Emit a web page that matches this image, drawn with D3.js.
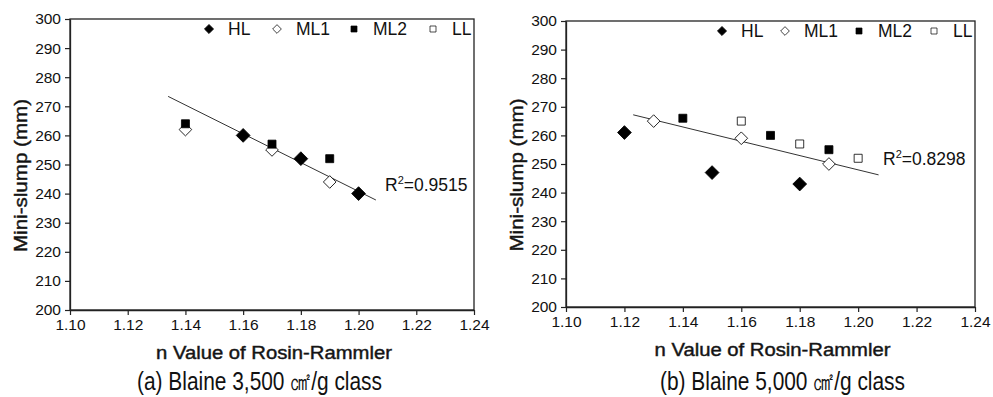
<!DOCTYPE html>
<html>
<head>
<meta charset="utf-8">
<script src="https://cdn.jsdelivr.net/npm/d3@7"></script>
<style>
  body { margin: 0; background: #fff; }
  svg text { font-family: "Liberation Sans", Arial, sans-serif; fill: #111; }
</style>
</head>
<body>
<svg id="chart" width="993" height="397"></svg>
<script>
// data
const xTicks = [1.10, 1.12, 1.14, 1.16, 1.18, 1.20, 1.22, 1.24]
const yTicks = [200, 210, 220, 230, 240, 250, 260, 270, 280, 290, 300]
const seriesNames = ["HL", "ML1", "ML2", "LL"]

// (a) Blaine 3,500
const a_HL = [[1.16, 260], [1.18, 252], [1.20, 240]]
const a_ML1 = [[1.14, 262], [1.17, 255], [1.19, 244]]
const a_ML2 = [[1.14, 264], [1.17, 257], [1.19, 252]]
const a_LL = []
const a_fit = [[1.134, 273.4], [1.206, 237.8]]

// (b) Blaine 5,000
const b_HL = [[1.12, 261], [1.15, 247], [1.18, 243]]
const b_ML1 = [[1.13, 265], [1.16, 259], [1.19, 250]]
const b_ML2 = [[1.14, 266], [1.17, 260], [1.19, 255]]
const b_LL = [[1.16, 265], [1.18, 257], [1.20, 252]]
const b_fit = [[1.123, 267.2], [1.207, 246.2]]

const svg = d3.select("#chart")

// marker shapes (diamonds are squares turned 45 degrees)
const symbols = {
    HL: { size: 95, rot: 45, fill: "#000" },
    ML1: { size: 80, rot: 45, fill: "#fff" },
    ML2: { size: 64, rot: 0, fill: "#000" },
    LL: { size: 64, rot: 0, fill: "#fff" }
}
const legendSymbols = {
    HL: { size: 42, rot: 45, fill: "#000" },
    ML1: { size: 38, rot: 45, fill: "#fff" },
    ML2: { size: 36, rot: 0, fill: "#000" },
    LL: { size: 36, rot: 0, fill: "#fff" }
}

const drawPanel = (p) => {
    const x = d3.scaleLinear().domain([1.10, 1.24]).range([p.left, p.right])
    const y = d3.scaleLinear().domain([200, 300]).range([p.bottom, p.top])
    const g = svg.append("g")

    // frame
    g.append("rect")
        .attr("x", p.left).attr("y", p.top)
        .attr("width", p.right - p.left).attr("height", p.bottom - p.top)
        .attr("fill", "none").attr("stroke", "#222").attr("stroke-width", 1.3)

    const xAxis = g.append("g")
        .attr("transform", "translate(0," + p.bottom + ")")
        .call(d3.axisBottom(x).tickValues(xTicks).tickFormat(d3.format(".2f")).tickSize(5).tickSizeOuter(0))
    const yAxis = g.append("g")
        .attr("transform", "translate(" + p.left + ",0)")
        .call(d3.axisLeft(y).tickValues(yTicks).tickSize(5).tickSizeOuter(0))
    ;[xAxis, yAxis].forEach((ax) => {
        ax.select(".domain").attr("stroke", "#222").attr("stroke-width", 1.3)
        ax.selectAll(".tick line").attr("stroke", "#222").attr("stroke-width", 1.2)
        ax.selectAll(".tick text").attr("font-size", 15.5).attr("fill", "#222")
            .attr("font-family", "Liberation Sans, Arial, sans-serif")
    })
    xAxis.selectAll(".tick text").attr("dy", "0.8em")
    yAxis.selectAll(".tick text").attr("dx", "-1")

    // regression line
    g.append("path")
        .datum(p.fit)
        .attr("d", d3.line().x((d) => x(d[0])).y((d) => y(d[1])))
        .attr("stroke", "#333").attr("stroke-width", 1).attr("fill", "none")

    // points
    seriesNames.forEach((name, i) => {
        const s = symbols[name]
        g.selectAll(".pt-" + name)
            .data(p.series[i])
            .enter()
            .append("path")
            .attr("transform", (d) => "translate(" + x(d[0]) + "," + y(d[1]) + ") rotate(" + s.rot + ")")
            .attr("d", d3.symbol().type(d3.symbolSquare).size(s.size))
            .attr("fill", s.fill).attr("stroke", "#000").attr("stroke-width", 0.8)
    })

    // legend
    seriesNames.forEach((name, i) => {
        const s = legendSymbols[name]
        g.append("path")
            .attr("transform", "translate(" + p.legendX[i] + "," + p.legendY + ") rotate(" + s.rot + ")")
            .attr("d", d3.symbol().type(d3.symbolSquare).size(s.size))
            .attr("fill", s.fill).attr("stroke", "#000").attr("stroke-width", 0.7)
        g.append("text")
            .attr("x", p.legendX[i] + 19).attr("y", p.legendY + 6)
            .attr("font-size", 17.5).text(name)
    })

    // R squared
    const r = g.append("text").attr("x", p.rX).attr("y", p.rY).attr("font-size", 17.5)
    r.append("tspan").text("R")
    r.append("tspan").attr("font-size", 11).attr("dy", -7).text("2")
    r.append("tspan").attr("dy", 7).text("=" + p.r2)

    // axis titles
    g.append("text")
        .attr("x", (p.left + p.right) / 2 + 2).attr("y", p.bottom + 49)
        .attr("text-anchor", "middle").attr("font-size", 18)
        .attr("fill", "#222").attr("stroke", "#222").attr("stroke-width", 0.45)
        .attr("textLength", 236).attr("lengthAdjust", "spacingAndGlyphs")
        .text("n Value of Rosin-Rammler")
    g.append("text")
        .attr("transform", "translate(" + (p.left - 43) + "," + ((p.top + p.bottom) / 2 + 11) + ") rotate(-90)")
        .attr("text-anchor", "middle").attr("font-size", 19)
        .attr("fill", "#222").attr("stroke", "#222").attr("stroke-width", 0.45)
        .attr("textLength", 153).attr("lengthAdjust", "spacingAndGlyphs")
        .text("Mini-slump (mm)")

    // caption
    g.append("text")
        .attr("x", p.capX).attr("y", 390)
        .attr("font-size", 26).attr("font-family", "Liberation Sans Narrow, Liberation Sans, sans-serif")
        .attr("fill", "#111")
        .attr("textLength", 245).attr("lengthAdjust", "spacingAndGlyphs")
        .text(p.caption)
}

drawPanel({
    left: 70, right: 474, top: 19, bottom: 310,
    series: [a_HL, a_ML1, a_ML2, a_LL], fit: a_fit,
    legendX: [209, 277, 354, 433], legendY: 29,
    rX: 385, rY: 191, r2: "0.9515",
    capX: 137, caption: "(a) Blaine 3,500 ㎠/g class"
})

drawPanel({
    left: 566, right: 975, top: 21, bottom: 307,
    series: [b_HL, b_ML1, b_ML2, b_LL], fit: b_fit,
    legendX: [722, 785, 859, 934], legendY: 31,
    rX: 883, rY: 165, r2: "0.8298",
    capX: 660, caption: "(b) Blaine 5,000 ㎠/g class"
})
</script>
</body>
</html>
